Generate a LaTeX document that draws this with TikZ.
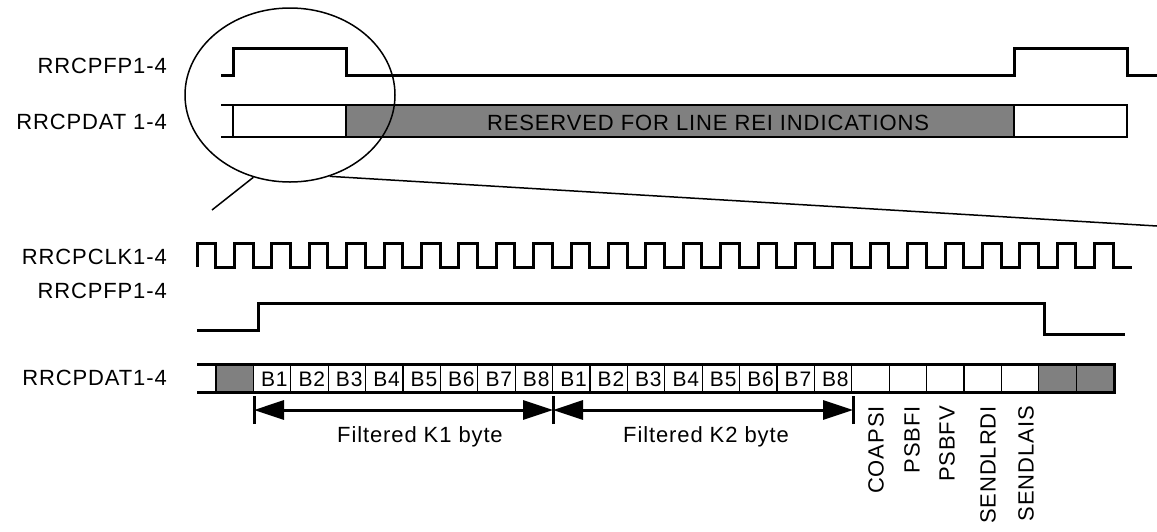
\documentclass[tikz,border=0pt]{standalone}
\usepackage{fontspec}
\setmainfont{Liberation Sans}[LetterSpace=4]
\usetikzlibrary{arrows.meta,shapes.geometric}
\definecolor{resv}{gray}{0.5}
\tikzset{
	wave/.style={line width=3pt},
	sig/.style={anchor=east,inner sep=0pt,font=\fontsize{22}{24}\selectfont},
	txt/.style={inner sep=0pt,font=\fontsize{22}{24}\selectfont},
	bit/.style={inner sep=0pt,font=\fontsize{21}{23}\selectfont},
	flag/.style={rotate=90,anchor=east,inner sep=0pt,font=\fontsize{22}{24}\selectfont},
	dim/.style={line width=3pt,{Triangle[length=30pt,width=19pt]}-{Triangle[length=30pt,width=19pt]}}
}
\begin{document}
\begin{tikzpicture}[x=1pt,y=-1pt]
	\useasboundingbox (0,0) rectangle (1157,531);
	% frame view
	\node [sig] (fp1) at (167,66) {RRCPFP1-4};
	\node [sig] (dat1) at (167,122) {RRCPDAT 1-4};
	\draw [wave] (221,75) -- (233,75) -- (233,48) -- (346,48) -- (346,75) -- (1014,75) -- (1014,48) -- (1127,48) -- (1127,75) -- (1157,75);
	\fill [resv] (346,105) rectangle (1014,137);
	\draw [line width=2.5pt] (221,105) -- (1127,105) -- (1127,137) -- (221,137);
	\draw [line width=2.5pt] (233,105) -- (233,137);
	\draw [line width=1.5pt] (346,105) -- (346,137) (1014,105) -- (1014,137);
	\node [txt] (rsv) at (708,123) {RESERVED FOR LINE REI INDICATIONS};
	\node [ellipse,draw,line width=1.5pt,minimum width=210,minimum height=174,inner sep=0pt] (lens) at (290,95) {};
	\coordinate (zl) at (212,210);
	\coordinate (zr) at (1157,226);
	\draw [line width=1.5pt] (lens.246) -- (zl);
	\draw [line width=1.5pt] (lens.296) -- (zr);
	% bit view
	\node [sig] (clk2) at (167,257) {RRCPCLK1-4};
	\node [sig] (fp2) at (167,291) {RRCPFP1-4};
	\node [sig] (dat2) at (167,378) {RRCPDAT1-4};
	\draw [wave] (197,267) \foreach \k in {0,...,24} { -- ++(0,-24) -- ++(18.7,0) -- ++(0,24) -- ++(18.7,0) };
	\draw [wave] (197,330) -- (258,330) -- (258,303) -- (1044,303) -- (1044,334) -- (1125,334);
	\foreach \i in {0,22,23} {
		\fill [resv] (216+37.4*\i,364) rectangle (253.4+37.4*\i,392);
	}
	\foreach \i in {1,...,23} {
		\draw [line width=1.2pt] (216+37.4*\i,364) -- (216+37.4*\i,392);
	}
	\draw [line width=3pt] (197,364) -- (1114,364) -- (1114,392) -- (197,392);
	\draw [line width=2.5pt] (216,364) -- (216,392);
	\foreach \i in {1,...,8} {
		\node [bit] (a\i) at (237+37.4*\i,379) {B\i};
		\node [bit] (b\i) at (536.2+37.4*\i,379) {B\i};
	}
	% byte markers
	\coordinate (m0) at (254,410);
	\coordinate (m1) at (553,410);
	\coordinate (m2) at (853,410);
	\foreach \m in {m0,m1,m2} {
		\draw [line width=3pt] ([yshift=-14pt]\m) -- ([yshift=14pt]\m);
	}
	\draw [dim] (m0) -- (m1);
	\draw [dim] (m1) -- (m2);
	\node [txt] (k1) at (420,437) {Filtered K1 byte};
	\node [txt] (k2) at (706,437) {Filtered K2 byte};
	\node [flag] (f1) at (876,406) {COAPSI};
	\node [flag] (f2) at (912,406) {PSBFI};
	\node [flag] (f3) at (947,406) {PSBFV};
	\node [flag] (f4) at (988,406) {SENDLRDI};
	\node [flag] (f5) at (1026,406) {SENDLAIS};
\end{tikzpicture}
\end{document}
